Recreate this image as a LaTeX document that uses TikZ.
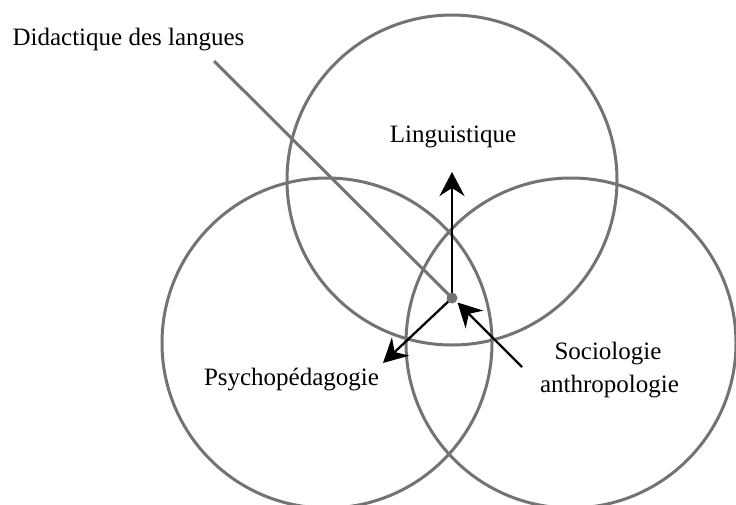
\documentclass[tikz,border=0pt]{standalone}
\usepackage{fontspec}
\setmainfont{Liberation Serif}
\usetikzlibrary{arrows.meta}
\begin{document}
\begin{tikzpicture}[x=1pt,y=-1pt,
  ring/.style={draw=black!55, line width=3pt},
  lbl/.style={font=\fontsize{25}{29}\selectfont, anchor=base, inner sep=0pt},
  arr/.style={draw=black, line width=2.3pt, -{Stealth[length=24pt,width=25pt,inset=8pt]}},
  pointer/.style={draw=black!55, line width=3pt}]
\useasboundingbox (0,0) rectangle (736,504);
\begin{scope}
\clip (0,0) rectangle (736,504);
\draw[ring] (452,180) circle[radius=165];
\draw[ring] (327,343) circle[radius=165];
\draw[ring] (571,343) circle[radius=165];
\end{scope}
\coordinate (dot) at (452,298);
\coordinate (lstart) at (214,61);
\coordinate (uptip) at (452,172);
\coordinate (dltip) at (383,363);
\coordinate (rstart) at (522,367);
\coordinate (rtip) at (457.5,302.5);
\draw[pointer] (lstart) -- (dot);
\draw[arr] (dot) -- (uptip);
\draw[arr] (dot) -- (dltip);
\draw[arr] (rstart) -- (rtip);
\fill[black!55] (dot) circle[radius=5.5];
\node[lbl] (did) at (128.5,45) {Didactique des langues};
\node[lbl] (ling) at (453,142) {Linguistique};
\node[lbl] (psy) at (291.5,385) {Psychopédagogie};
\node[lbl] (soc) at (608,359) {Sociologie};
\node[lbl] (anth) at (609.5,392) {anthropologie};
\end{tikzpicture}
\end{document}
